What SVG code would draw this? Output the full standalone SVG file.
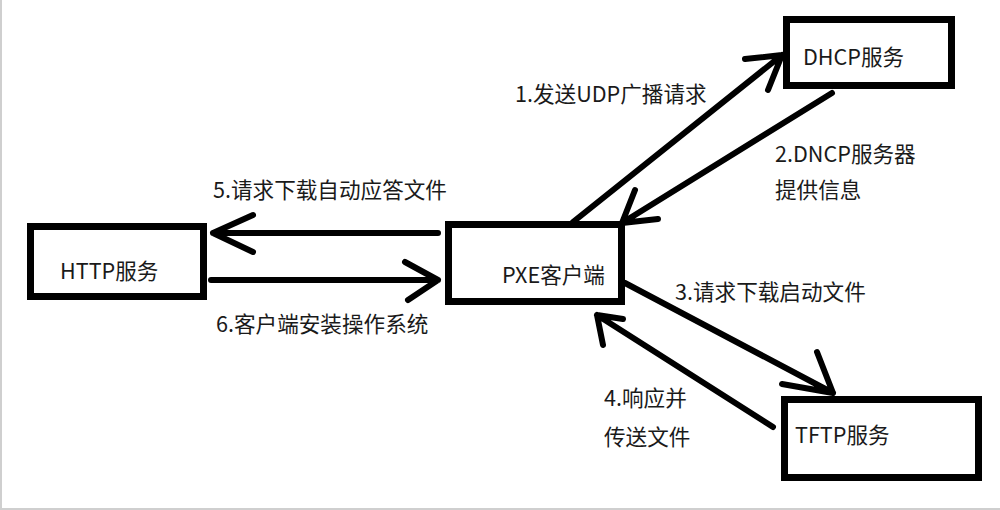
<svg xmlns="http://www.w3.org/2000/svg" width="1000" height="510" viewBox="0 0 1000 510">
<style>
.box{fill:#fff;stroke:#000;stroke-width:7}
.ln{fill:none;stroke:#000;stroke-width:6;stroke-linecap:round;stroke-linejoin:round}
text{font-family:"Noto Sans CJK SC","Microsoft YaHei",sans-serif;font-size:21.6px;fill:#1a1a1a}
</style>
<rect x="0" y="0" width="1000" height="510" fill="#fff"/>
<line x1="1" y1="0" x2="1" y2="510" stroke="#cfcfcf" stroke-width="2"/>
<line x1="0" y1="509" x2="1000" y2="509" stroke="#cfcfcf" stroke-width="2"/>
<g id="connectors">
<g id="c1"><path class="ln" d="M573,222 L782,55 M745,59 L782,55 L768,90"/></g>
<g id="c2"><path class="ln" d="M832,93 L622,223 M635,190 L622,223 L658,219"/></g>
<g id="c3"><path class="ln" d="M625,283 L833,393 M817,352 L833,393 L782,384"/></g>
<g id="c4"><path class="ln" d="M773,427 L597,315 M603,345 L597,315 L623,319"/></g>
<g id="c5"><path class="ln" d="M438,233 L213,233 M253,215 L213,233 L253,252"/></g>
<g id="c6"><path class="ln" d="M211,280 L438,280 M405,262 L438,280 L408,300"/></g>
<text x="515" y="102">1.发送UDP广播请求</text>
<text x="775" y="162">2.DNCP服务器</text>
<text x="775" y="198">提供信息</text>
<text x="675" y="300">3.请求下载启动文件</text>
<text x="604" y="406">4.响应并</text>
<text x="604" y="445">传送文件</text>
<text x="213" y="198">5.请求下载自动应答文件</text>
<text x="216" y="332">6.客户端安装操作系统</text>
</g>
<g id="dhcp"><rect class="box" x="786.5" y="19.5" width="165" height="66"/><text x="803" y="65">DHCP服务</text></g>
<g id="pxe"><rect class="box" x="448.5" y="224.5" width="173" height="77"/><text x="502" y="283">PXE客户端</text></g>
<g id="http"><rect class="box" x="30.5" y="226.5" width="173" height="70"/><text x="60" y="279">HTTP服务</text></g>
<g id="tftp"><rect class="box" x="784.5" y="399.5" width="194" height="78"/><text x="795" y="443">TFTP服务</text></g>
</svg>
